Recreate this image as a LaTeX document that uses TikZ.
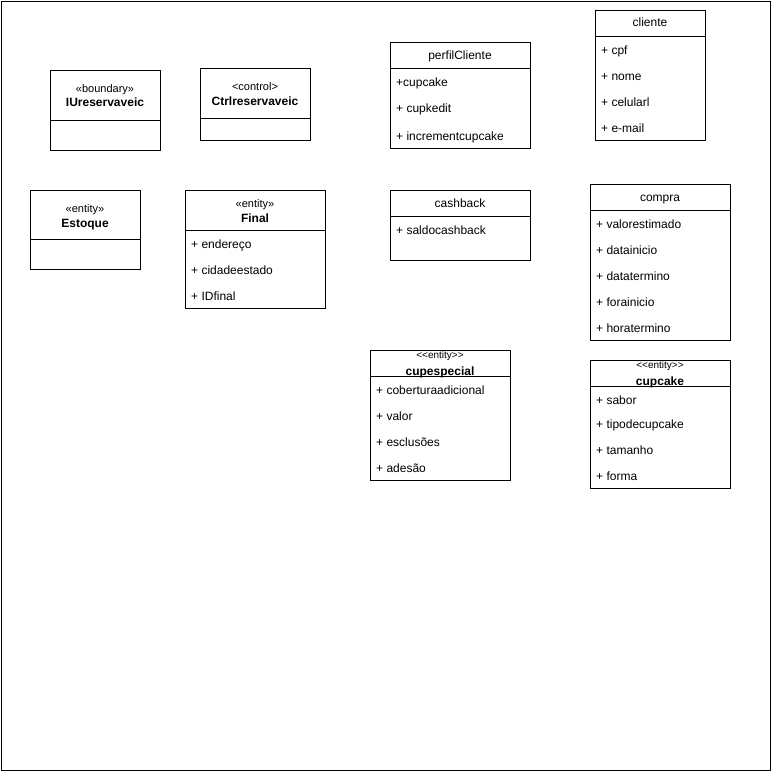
\documentclass[tikz,border=0pt]{standalone}
\usepackage{fontspec}
\setmainfont{Liberation Sans}
\begin{document}
\begin{tikzpicture}[x=1pt,y=-1pt,
  box/.style={draw,line width=0.9pt,rectangle,anchor=north west,inner sep=0pt},
  rule/.style={line width=0.9pt},
  title/.style={anchor=base,inner sep=0pt,font=\fontsize{12}{14}\selectfont},
  bold/.style={anchor=base,inner sep=0pt,font=\fontsize{12}{14}\selectfont\bfseries},
  stereo/.style={anchor=base,inner sep=0pt,font=\fontsize{11}{13}\selectfont},
  smallstereo/.style={anchor=base,inner sep=0pt,font=\fontsize{10}{12}\selectfont},
  attr/.style={anchor=base west,inner sep=0pt,font=\fontsize{12}{14}\selectfont}]
% frame
\path[use as bounding box] (0,0) rectangle (771,771);
\node[box,minimum width=769.5pt,minimum height=769.5pt] (frame) at (0.75,0.75) {};

% IUreservaveic
\node[box,minimum width=110pt,minimum height=80pt] (iu) at (50,70) {};
\draw[rule] (50,120) -- (160,120);
\node[stereo] (iuS) at (105,92) {«boundary»};
\node[bold] (iuN) at (105,106) {IUreservaveic};

% Ctrlreservaveic
\node[box,minimum width=110pt,minimum height=72pt] (ctrl) at (200,68) {};
\draw[rule] (200,118) -- (310,118);
\node[stereo] (ctrlS) at (255,90) {<control>};
\node[bold] (ctrlN) at (255,105) {Ctrlreservaveic};

% perfilCliente
\node[box,minimum width=140pt,minimum height=106pt] (perfil) at (390,42) {};
\draw[rule] (390,68) -- (530,68);
\node[title] (perfilN) at (460,59) {perfilCliente};
\node[attr] (perfil1) at (396,86) {+cupcake};
\node[attr] (perfil2) at (396,112) {+ cupkedit};
\node[attr] (perfil3) at (396,140) {+ incrementcupcake};

% cliente
\node[box,minimum width=110pt,minimum height=130pt] (cliente) at (595,10) {};
\draw[rule] (595,36) -- (705,36);
\node[title] (clienteN) at (650,27) {cliente};
\node[attr] (cliente1) at (601,54) {+ cpf};
\node[attr] (cliente2) at (601,80) {+ nome};
\node[attr] (cliente3) at (601,106) {+ celularl};
\node[attr] (cliente4) at (601,132) {+ e-mail};

% Estoque
\node[box,minimum width=110pt,minimum height=79pt] (estoque) at (30,190) {};
\draw[rule] (30,239) -- (140,239);
\node[stereo] (estoqueS) at (85,212) {«entity»};
\node[bold] (estoqueN) at (85,227) {Estoque};

% Final
\node[box,minimum width=140pt,minimum height=118pt] (final) at (185,190) {};
\draw[rule] (185,230) -- (325,230);
\node[stereo] (finalS) at (255,207) {«entity»};
\node[bold] (finalN) at (255,222) {Final};
\node[attr] (final1) at (191,248) {+ endereço};
\node[attr] (final2) at (191,274) {+ cidadeestado};
\node[attr] (final3) at (191,300) {+ IDfinal};

% cashback
\node[box,minimum width=140pt,minimum height=70pt] (cash) at (390,190) {};
\draw[rule] (390,216) -- (530,216);
\node[title] (cashN) at (460,207) {cashback};
\node[attr] (cash1) at (396,234) {+ saldocashback};

% compra
\node[box,minimum width=140pt,minimum height=156pt] (compra) at (590,184) {};
\draw[rule] (590,210) -- (730,210);
\node[title] (compraN) at (660,201) {compra};
\node[attr] (compra1) at (596,228) {+ valorestimado};
\node[attr] (compra2) at (596,254) {+ datainicio};
\node[attr] (compra3) at (596,280) {+ datatermino};
\node[attr] (compra4) at (596,306) {+ forainicio};
\node[attr] (compra5) at (596,332) {+ horatermino};

% cupespecial
\node[box,minimum width=140pt,minimum height=130pt] (cupesp) at (370,350) {};
\draw[rule] (370,376) -- (510,376);
\node[smallstereo] (cupespS) at (440,358.5) {{<}{<}entity{>}{>}};
\node[bold] (cupespN) at (440,375) {cupespecial};
\node[attr] (cupesp1) at (376,394) {+ coberturaadicional};
\node[attr] (cupesp2) at (376,420) {+ valor};
\node[attr] (cupesp3) at (376,446) {+ esclusões};
\node[attr] (cupesp4) at (376,472) {+ adesão};

% cupcake
\node[box,minimum width=140pt,minimum height=128pt] (cupcake) at (590,360) {};
\draw[rule] (590,386) -- (730,386);
\node[smallstereo] (cupcakeS) at (660,368.5) {{<}{<}entity{>}{>}};
\node[bold] (cupcakeN) at (660,385) {cupcake};
\node[attr] (cupcake1) at (596,404) {+ sabor};
\node[attr] (cupcake2) at (596,428) {+ tipodecupcake};
\node[attr] (cupcake3) at (596,454) {+ tamanho};
\node[attr] (cupcake4) at (596,480) {+ forma};
\end{tikzpicture}
\end{document}
